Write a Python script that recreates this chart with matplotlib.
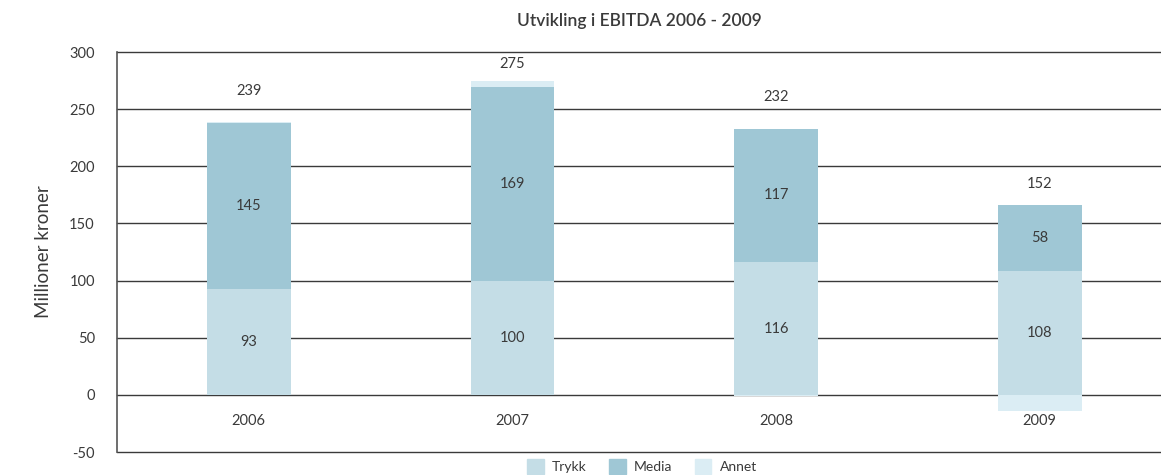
import matplotlib
matplotlib.use("Agg")
import matplotlib.pyplot as plt
import numpy as np
from matplotlib.patches import Patch

years = ["2006", "2007", "2008", "2009"]
trykk = [93, 100, 116, 108]
media = [145, 169, 117, 58]
annet = [1, 6, -1, -14]
totals = [239, 275, 232, 152]
yticks = [-50, 0, 50, 100, 150, 200, 250, 300]

c_trykk = "#c4dde6"
c_media = "#9fc7d5"
c_annet = "#dbedf4"
txt = "#3a3a3a"
plt.rcParams["font.family"] = ["Lato", "DejaVu Sans"]

fig = plt.figure(figsize=(11.61, 4.75), dpi=100)
ax = fig.add_axes([117/1161, 1-452/475, 1-117/1161, (452-52)/475])

x = np.arange(len(years))
w = 0.318
tr = np.array(trykk, float)
me = np.array(media, float)
an = np.array(annet, float)

for yv in yticks:
    ax.axhline(yv, color="#3a3a3a", lw=1.0, zorder=1, clip_on=False)

ax.bar(x, tr, w, color=c_trykk, zorder=2)
ax.bar(x, me, w, bottom=tr, color=c_media, zorder=2)
pos_an = np.where(an > 0, an, 0)
neg_an = np.where(an < 0, an, 0)
ax.bar(x, pos_an, w, bottom=tr + me, color=c_annet, zorder=2)
ax.bar(x, neg_an, w, bottom=0, color=c_annet, zorder=2)

fs = 10.5
for i in range(len(years)):
    ax.text(x[i], tr[i] / 2, str(trykk[i]), ha="center", va="center", fontsize=fs, color=txt, zorder=3)
    ax.text(x[i], tr[i] + me[i] / 2, str(media[i]), ha="center", va="center", fontsize=fs, color=txt, zorder=3)
    top = tr[i] + me[i] + pos_an[i]
    ax.annotate(str(totals[i]), (x[i], top), xytext=(0, [22, 12, 23, 15][i]), textcoords="offset points",
                ha="center", va="center", fontsize=fs, color=txt)
    ax.text(x[i], -23, years[i], ha="center", va="center", fontsize=fs, color=txt)

ax.set_xlim(-0.5, 3.46)
ax.set_ylim(-50, 300)
ax.set_yticks(yticks)
ax.set_yticklabels([str(v) for v in yticks], fontsize=fs, color=txt)
ax.tick_params(axis="y", length=0, pad=16)
ax.set_xticks([])
for s in ["top", "right", "bottom"]:
    ax.spines[s].set_visible(False)
ax.spines["left"].set_color("#555555")
ax.spines["left"].set_linewidth(1.2)
ax.set_ylabel("Millioner kroner", fontsize=13.5, color=txt, labelpad=12)

ax.set_title("Utvikling i EBITDA 2006 - 2009", fontsize=12.5, fontweight="semibold", color=txt, pad=19)

handles = [Patch(color=c_trykk, label="Trykk"), Patch(color=c_media, label="Media"), Patch(color=c_annet, label="Annet")]
fig.legend(handles=handles, loc="center", bbox_to_anchor=(0.553, 0.018), ncol=3, frameon=False,
           fontsize=10, handlelength=1.2, handleheight=1.2, columnspacing=1.6, handletextpad=0.6,
           labelcolor=txt)

fig.savefig("out.png", dpi=100)
